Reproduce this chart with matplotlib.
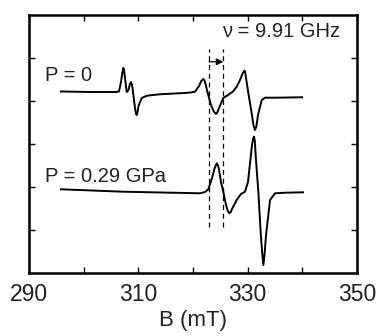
import matplotlib
matplotlib.use("Agg")
import matplotlib.pyplot as plt

plt.rcParams['font.family'] = ['Liberation Sans', 'DejaVu Sans']

# EPR spectra (B in mT, intensity in tick units 0-6)
b_p0 = [295.85, 301.16, 305.92, 306.46, 306.83, 307.05, 307.25, 307.40, 307.56,
        307.87, 308.20, 308.45, 308.66, 308.85, 309.02, 309.39, 309.55, 309.70,
        309.85, 310.03, 310.62, 311.59, 313.96, 318.54, 319.60, 320.37, 321.10,
        321.50, 321.88, 322.10, 322.29, 322.69, 323.29, 323.80, 324.21, 324.45,
        324.76, 325.54, 326.40, 327.32, 327.99, 328.60, 329.05, 329.38, 329.55,
        329.70, 330.12, 330.70, 331.05, 331.34, 331.60, 331.89, 332.57, 333.17,
        335.00, 339.94]
y_p0 = [4.229, 4.217, 4.217, 4.229, 4.450, 4.650, 4.776, 4.720, 4.543,
        4.217, 4.264, 4.400, 4.450, 4.380, 4.217, 3.844, 3.720, 3.681,
        3.740, 3.891, 4.077, 4.131, 4.164, 4.194, 4.205, 4.224, 4.357,
        4.470, 4.520, 4.490, 4.403, 4.194, 3.914, 3.760, 3.704, 3.740,
        3.844, 4.077, 4.147, 4.229, 4.341, 4.497, 4.640, 4.713, 4.680,
        4.543, 4.194, 3.751, 3.450, 3.332, 3.420, 3.681, 4.031, 4.084,
        4.084, 4.094]

b_p029 = [295.85, 307.20, 321.28, 322.20, 322.80, 323.48, 323.95, 324.34, 324.60,
          324.76, 325.12, 325.54, 326.04, 326.35, 326.64, 326.90, 327.13, 327.99,
          328.78, 329.51, 330.06, 330.43, 330.79, 331.00, 331.16, 331.30, 331.52,
          331.95, 332.35, 332.62, 332.86, 333.08, 333.36, 334.09, 335.00, 336.83,
          340.12]
y_p029 = [1.950, 1.894, 1.857, 1.887, 1.950, 2.213, 2.440, 2.556, 2.500,
          2.400, 2.120, 1.894, 1.584, 1.450, 1.391, 1.420, 1.491, 1.701,
          1.841, 1.894, 2.120, 2.563, 2.982, 3.130, 3.176, 3.080, 2.633,
          1.894, 1.002, 0.520, 0.186, 0.420, 0.885, 1.701, 1.857, 1.871,
          1.880]

# line positions marking the shift
b_lines = [322.93, 325.54]

fig = plt.figure(figsize=(3.79, 3.36), dpi=100)
ax = fig.add_axes([0.0765, 0.1875, 0.8655, 0.7665])

ax.plot(b_p0, y_p0, color='black', lw=1.4)
ax.plot(b_p029, y_p029, color='black', lw=1.4)

for b in b_lines:
    ax.plot([b, b], [1.08, 5.22], color='black', lw=0.9, ls=(0, (4, 3)))

ax.annotate('', xy=(b_lines[1], 4.92), xytext=(b_lines[0], 4.92),
            arrowprops=dict(arrowstyle='-|>', color='black', lw=0.9,
                            mutation_scale=10, shrinkA=0, shrinkB=0))

ax.text(325.25, 5.63, 'ν = 9.91 GHz', fontsize=14.5, color='#222222', va='center', ha='left')
ax.text(292.9, 4.61, 'P = 0', fontsize=14.5, color='#222222', va='center', ha='left')
ax.text(292.9, 2.25, 'P = 0.29 GPa', fontsize=14.5, color='#222222', va='center', ha='left')

ax.set_xlim(290, 350)
ax.set_ylim(0, 6)
ax.set_xticks(range(290, 351, 10))
ax.set_xticklabels(['290', '', '310', '', '330', '', '350'])
ax.set_yticks([1, 2, 3, 4, 5])
ax.set_yticklabels([])
ax.tick_params(direction='in', length=4, width=1, top=True, right=True,
               labelsize=16.5, pad=7, colors='black', labelcolor='#222222')
for s in ax.spines.values():
    s.set_linewidth(1.8)

ax.set_xlabel('B (mT)', fontsize=16, color='#222222', labelpad=3)

fig.savefig('out.png', dpi=100)
